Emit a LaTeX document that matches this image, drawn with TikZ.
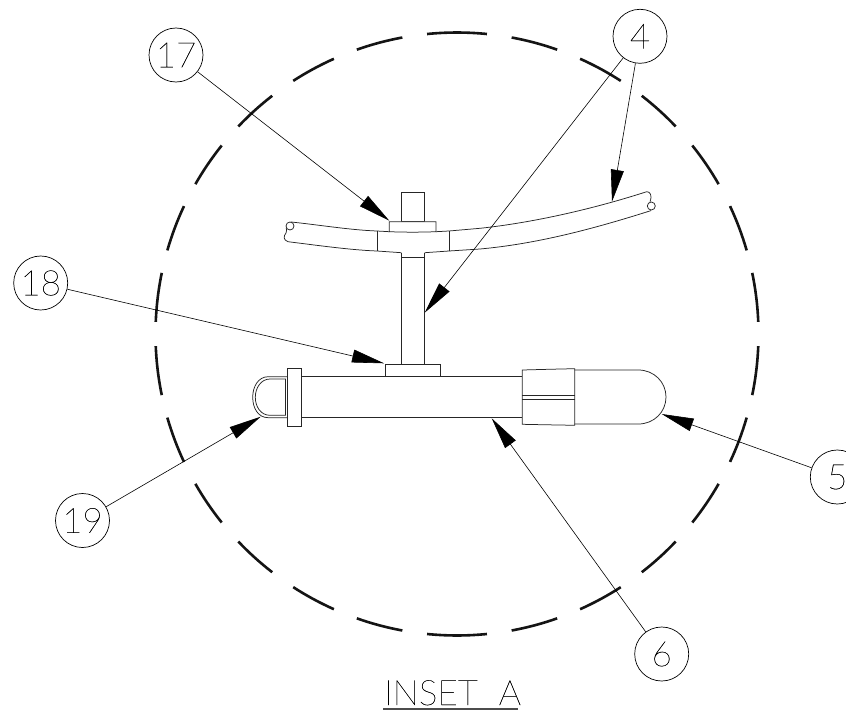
\documentclass[tikz,border=0pt]{standalone}
\usepackage{fontspec}
\setmainfont[FakeBold=0.4]{Lato Hairline}
\usetikzlibrary{arrows.meta}
\tikzset{
  part/.style={line width=0.75pt,draw=black!85,fill=white},
  partline/.style={line width=0.75pt,draw=black!85},
  dashring/.style={line width=2.6pt,black!92},
  balloon/.style={circle,draw,line width=0.7pt,minimum size=54pt,inner sep=0pt,font=\fontsize{35}{35}\selectfont},
  leader/.style={line width=0.6pt,-{Triangle[length=32pt,width=13pt]}},
  caption/.style={inner sep=0pt,font=\fontsize{35}{35}\selectfont}
}
\begin{document}
\begin{tikzpicture}[x=1pt,y=-1pt]
\useasboundingbox (0,0) rectangle (846,712);
% dashed ring
\foreach \a/\b in {-5.7/5.7,10.45/19.4,24.1/32.9,37.8/46.5,51.3/60.2,64.9/73.9,78.3/87.7,
  92.3/101.7,106.1/115.1,119.8/128.7,133.5/142.2,147.1/155.9,160.6/169.55,174.3/185.7,
  190.45/199.4,204.1/212.9,217.8/226.5,231.3/240.2,244.9/253.9,258.3/267.7,
  272.3/281.7,286.1/295.1,299.8/308.7,313.5/322.2,327.1/335.9,340.6/349.55}{
  \draw[dashring] ({457+301.5*sin(\a)},{334-301.5*cos(\a)}) arc[start angle={-90+\a},end angle={-90+\b},radius=301.5];
}
% pipe
\draw[partline] (291.2,222) .. controls (320,225) and (350,230) .. (377,231);
\draw[partline] (288,241.7) .. controls (315,245) and (350,250) .. (377,251);
\draw[partline] (290,226) circle[radius=4];
\draw[partline] (286.2,227.5) .. controls (286.5,230) and (287,231) .. (286,233) .. controls (283.5,236) and (283,240) .. (288,241.7);
\draw[partline] (449,231) -- (480,228.3) .. controls (530,223) and (590,210) .. (646.7,191.7);
\draw[partline] (449,251) -- (480,249) .. controls (535,244) and (590,230) .. (651,210.6);
\draw[partline] (646.7,191.7) .. controls (650,191.7) and (652.5,195) .. (650,201.7);
\draw[partline] (651.3,206) circle[radius=4];
% clamp
\draw[partline] (377,231) -- (377,251) (449,231) -- (449,251);
\draw[partline] (377,251) -- (401.3,252.7) (424.7,252.7) -- (449,251);
\draw[partline] (377,231) -- (389.3,231.7) (436,231.7) -- (449,231);
% bolt and nut
\draw[part] (401.3,192.3) rectangle (424.7,221.7);
\draw[part] (389.3,221.7) -- (436,221.7) -- (436,231.7) .. controls (420,232.3) and (405,232.3) .. (389.3,231.7) -- cycle;
% stem
\draw[partline] (401.3,252.7) -- (401.3,364) (424.7,252.7) -- (424.7,364) (401.3,257.3) -- (424.7,257.3);
% tube
\draw[partline] (301.7,376.7) -- (522.3,376.7) (301.7,417.7) -- (522.3,417.7);
\draw[part] (385.7,364) rectangle (440.3,376.5);
% flange and lens
\draw[partline] (287.7,376.7) -- (268.3,376.7) .. controls (258,376.7) and (252.7,387) .. (252.7,397.2) .. controls (252.7,408) and (258,417.7) .. (268.3,417.7) -- (287.7,417.7);
\draw[partline] (285.5,379) -- (270,379) .. controls (261,379) and (255.3,388) .. (255.3,397.2) .. controls (255.3,407) and (261,415.3) .. (270,415.3) -- (285.5,415.3) -- cycle;
\draw[part] (287.7,368) rectangle (301.7,426.3);
% coupler
\draw[part] (522.3,370) .. controls (540,369.5) and (560,369) .. (574.7,368.7) -- (574.7,425.3) .. controls (560,425) and (540,424.7) .. (522.3,424.3) -- cycle;
\draw[partline] (522.3,395) -- (574.7,395) (522.3,399.7) -- (574.7,399.7);
% bulb
\draw[partline] (574.7,370) -- (638.3,370) .. controls (654,370) and (666,382) .. (666,397) .. controls (666,412) and (654,424) .. (638.3,424) -- (574.7,424);
% balloons
\node[balloon] (n17) at (176,55) {17};
\node[balloon] (n4) at (640,36.3) {4};
\node[balloon] (n18) at (40.7,283) {18};
\node[balloon] (n19) at (82.5,520.5) {19};
\node[balloon] (n5) at (837.3,477) {5};
\node[balloon] (n6) at (661.7,654) {6};
% leader targets
\coordinate (t17) at (389.3,220.7);
\coordinate (t4a) at (424.7,312.7);
\coordinate (t4b) at (612,201.7);
\coordinate (t18) at (384,363.3);
\coordinate (t19) at (260.7,416.7);
\coordinate (t6) at (491.7,418.3);
\coordinate (t5) at (661.7,414);
\draw[leader] (n17) -- (t17);
\draw[leader] (n4) -- (t4a);
\draw[leader] (n4) -- (t4b);
\draw[leader] (n18) -- (t18);
\draw[leader] (n19) -- (t19);
\draw[leader] (n6) -- (t6);
\draw[leader] (n5) -- (t5);
% caption
\node[caption,anchor=base west] (cap) at (384,705) {INSET\hspace{21pt}A};
\coordinate (ua) at (383,709);
\coordinate (ub) at (518,709);
\draw[line width=1.3pt,black!70] (ua) -- (ub);
\end{tikzpicture}
\end{document}
